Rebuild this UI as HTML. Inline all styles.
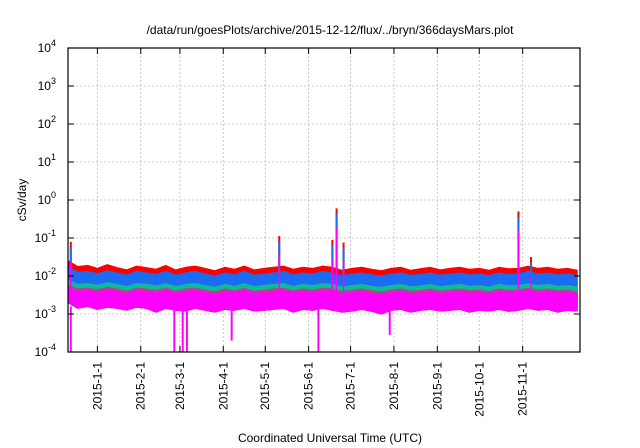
<!DOCTYPE html>
<html><head><meta charset="utf-8"><style>
body{margin:0;background:#fff}
svg{display:block;font-family:"Liberation Sans",sans-serif}
</style></head><body>
<svg width="640" height="448">
<g id="grid"></g>
<g id="series"></g>
<g id="axes"></g>
<text x="330" y="34" text-anchor="middle" font-size="12">/data/run/goesPlots/archive/2015-12-12/flux/../bryn/366daysMars.plot</text>
<text transform="translate(26,200) rotate(-90)" text-anchor="middle" font-size="12">cSv/day</text>
<text x="330" y="442" text-anchor="middle" font-size="12">Coordinated Universal Time (UTC)</text>
</svg>
<script>
const yExps=[-4,-3,-2,-1,0,1,2,3,4];
const xTickLabels=["2015-1-1","2015-2-1","2015-3-1","2015-4-1","2015-5-1","2015-6-1","2015-7-1","2015-8-1","2015-9-1","2015-10-1","2015-11-1"];
const xTickDays=[21,52,80,111,141,172,202,233,264,294,325];
// weekly samples (log10 cSv/day), day = index*7
const redTop=[-1.6,-1.75,-1.72,-1.8,-1.7,-1.78,-1.84,-1.74,-1.78,-1.82,-1.72,-1.84,-1.77,-1.74,-1.8,-1.86,-1.77,-1.82,-1.74,-1.84,-1.8,-1.77,-1.74,-1.82,-1.77,-1.8,-1.74,-1.77,-1.85,-1.8,-1.77,-1.82,-1.86,-1.8,-1.77,-1.85,-1.81,-1.77,-1.84,-1.8,-1.77,-1.82,-1.8,-1.85,-1.77,-1.81,-1.8,-1.74,-1.8,-1.77,-1.82,-1.8,-1.85];
const blueTop=[-1.75,-1.9,-1.88,-1.94,-1.86,-1.92,-1.98,-1.88,-1.92,-1.96,-1.88,-1.98,-1.92,-1.88,-1.95,-2.0,-1.92,-1.97,-1.88,-1.98,-1.95,-1.92,-1.88,-1.97,-1.92,-1.95,-1.88,-1.92,-1.99,-1.95,-1.92,-1.97,-2.0,-1.95,-1.92,-1.98,-1.96,-1.92,-1.98,-1.95,-1.92,-1.97,-1.95,-1.99,-1.92,-1.96,-1.95,-1.88,-1.95,-1.92,-1.97,-1.95,-1.99];
const greenTop=[-2.1,-2.22,-2.2,-2.24,-2.18,-2.22,-2.28,-2.2,-2.22,-2.26,-2.2,-2.28,-2.22,-2.2,-2.25,-2.3,-2.22,-2.27,-2.2,-2.28,-2.25,-2.22,-2.2,-2.27,-2.22,-2.25,-2.2,-2.22,-2.29,-2.25,-2.22,-2.27,-2.3,-2.25,-2.22,-2.28,-2.26,-2.22,-2.28,-2.25,-2.22,-2.27,-2.25,-2.29,-2.22,-2.26,-2.25,-2.2,-2.25,-2.22,-2.27,-2.25,-2.29];
const magTop=[-2.3,-2.4,-2.38,-2.42,-2.36,-2.4,-2.46,-2.38,-2.4,-2.44,-2.38,-2.46,-2.4,-2.38,-2.43,-2.48,-2.4,-2.45,-2.38,-2.46,-2.43,-2.4,-2.38,-2.45,-2.4,-2.43,-2.38,-2.4,-2.47,-2.43,-2.4,-2.45,-2.48,-2.43,-2.4,-2.46,-2.44,-2.4,-2.46,-2.43,-2.4,-2.45,-2.43,-2.47,-2.4,-2.44,-2.43,-2.38,-2.43,-2.4,-2.45,-2.43,-2.47];
const magBottom=[-2.7,-2.85,-2.8,-2.88,-2.82,-2.85,-2.9,-2.82,-2.85,-2.95,-2.85,-2.9,-2.92,-2.85,-2.9,-2.95,-2.88,-2.9,-2.85,-2.92,-2.9,-2.88,-2.85,-2.95,-2.88,-2.9,-2.85,-2.9,-2.95,-2.92,-2.88,-2.93,-3.0,-2.9,-2.88,-2.95,-2.9,-2.88,-2.92,-2.9,-2.88,-2.95,-2.9,-2.92,-2.88,-2.93,-2.9,-2.85,-2.9,-2.88,-2.95,-2.9,-2.92];
const spikeDays=[2,151,189,192,197,322,331];
const spikeVals=[-1.1,-0.95,-1.05,-0.22,-1.12,-0.3,-1.5];
const dropDays=[2,76,82,85,117,179,230];
const dropVals=[-4,-4,-4,-4,-3.7,-4,-3.55];

const L=68,R=580,T=48,B=352,D=366;
const xs=d=>L+(d/D)*(R-L);
const ys=v=>T+(4-v)*(B-T)/8;
const NS="http://www.w3.org/2000/svg";
function mk(p,tag,a){const e=document.createElementNS(NS,tag);for(const k in a)e.setAttribute(k,a[k]);p.appendChild(e);return e;}
const grid=document.getElementById('grid'),ser=document.getElementById('series'),ax=document.getElementById('axes');
yExps.forEach(e=>{
  const y=ys(e);
  if(e>-4&&e<4){const g=mk(grid,'line',{x1:L,x2:R,y1:y,y2:y,stroke:'#bbb','stroke-dasharray':'2,2','stroke-width':0.8});
  
  }
  mk(ax,'line',{x1:L,x2:L+6,y1:y,y2:y,stroke:'#000'});
  mk(ax,'line',{x1:R,x2:R-6,y1:y,y2:y,stroke:'#000'});
  const t=mk(ax,'text',{x:56,y:y+4,'text-anchor':'end','font-size':12});
  
  
  t.textContent='10';
  const s=mk(t,'tspan',{dy:-6,'font-size':9});s.textContent=String(e);
});
xTickDays.forEach((d,i)=>{
  const x=xs(d);
  const g=mk(grid,'line',{x1:x,x2:x,y1:T,y2:B,stroke:'#bbb','stroke-dasharray':'2,2','stroke-width':0.8});
  
  
  mk(ax,'line',{x1:x,x2:x,y1:B,y2:B-6,stroke:'#000'});
  mk(ax,'line',{x1:x,x2:x,y1:T,y2:T+6,stroke:'#000'});
  const t=mk(ax,'text',{transform:`translate(${x+4},362) rotate(-90)`,'text-anchor':'end','font-size':12});
  
  
  t.textContent=xTickLabels[i];
});
function pts(arr){return arr.map((v,i)=>[xs(Math.min(i*7,D-1)),ys(v)]);}
function band(top,bot,color,name){
  const a=pts(top),b=pts(bot).reverse();
  const d='M'+a.concat(b).map(p=>p[0].toFixed(1)+','+p[1].toFixed(1)).join('L')+'Z';
  const p=mk(ser,'path',{d:d,fill:color,stroke:color,'stroke-width':1,'stroke-linejoin':'round'});
  
  
}
band(redTop,magBottom,'#ff0000','series-red');
band(blueTop,magBottom,'#1a6cf0','series-blue');
band(greenTop,magBottom,'#10b8a0','series-green');
band(magTop.map(v=>v+0.06),magBottom,'#a05078','series-brown');
band(magTop,magBottom,'#ff00ff','series-magenta');
spikeDays.forEach((d,i)=>{
  const x=xs(d);
  const l=mk(ser,'line',{x1:x,x2:x,y1:ys(-2),y2:ys(spikeVals[i]),stroke:'#ff0000','stroke-width':2});
  
  
  const l2=mk(ser,'line',{x1:x,x2:x,y1:ys(-2.2),y2:ys(spikeVals[i]-0.15),stroke:'#1a6cf0','stroke-width':2});
  
  
  const l3=mk(ser,'line',{x1:x,x2:x,y1:ys(-2.6),y2:ys(spikeVals[i]-0.5),stroke:'#ff00ff','stroke-width':1.5});
  
  
});
dropDays.forEach((d,i)=>{
  const x=xs(d);
  const l=mk(ser,'line',{x1:x,x2:x,y1:ys(-2.8),y2:ys(dropVals[i]),stroke:'#ff00ff','stroke-width':2});
  
  
});
mk(ax,'rect',{x:L,y:T,width:R-L,height:B-T,fill:'none',stroke:'#000','stroke-width':1.2});
</script>
</body></html>
